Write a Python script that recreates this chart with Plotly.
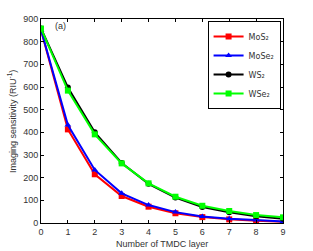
import plotly.graph_objects as go

layers = [0, 1, 2, 3, 4, 5, 6, 7, 8, 9]
mos2 = [852, 413, 215, 119, 72, 43, 26, 16, 10, 5]
mose2 = [852, 432, 234, 131, 79, 48, 29, 19, 13, 7]
ws2 = [858, 598, 400, 265, 173, 112, 71, 47, 30, 19]
wse2 = [858, 584, 391, 263, 175, 116, 76, 53, 35, 25]

series = [
    ("MoS₂", mos2, "red", "square"),
    ("MoSe₂", mose2, "blue", "triangle-up"),
    ("WS₂", ws2, "black", "circle"),
    ("WSe₂", wse2, "#00ff00", "square"),
]

FONT = "DejaVu Sans, Liberation Sans, Arial"
AX = "Liberation Sans, Arial"
TXT = "#333333"

fig = go.Figure()
for name, vals, col, sym in series:
    fig.add_trace(go.Scatter(
        x=layers, y=vals, name=name, mode="lines+markers",
        line=dict(color=col, width=2),
        marker=dict(color=col, symbol=sym, size=6),
    ))

axis_common = dict(
    showgrid=False, zeroline=False, showline=True, linecolor="black", linewidth=1,
    mirror="ticks", ticks="inside", ticklen=3, tickcolor="black", automargin=False,
    tickfont=dict(family=AX, size=9, color=TXT),
)
fig.update_xaxes(range=[0, 9], dtick=1, **axis_common)
fig.update_yaxes(range=[0, 900], dtick=100, **axis_common)

fig.add_annotation(x=0.5, y=-0.105, xref="paper", yref="paper", text="Number of TMDC layer",
                   showarrow=False, xanchor="center", yanchor="middle",
                   font=dict(family=AX, size=9, color=TXT))
fig.add_annotation(x=-0.12, y=0.5, xref="paper", yref="paper",
                   text="Imaging sensitivity (RIU<sup>-1</sup>)", textangle=-90,
                   showarrow=False, xanchor="center", yanchor="middle",
                   font=dict(family=AX, size=9, color=TXT))
fig.add_annotation(x=0.45, y=898, xref="x", yref="y", text="(a)", showarrow=False,
                   xanchor="left", yanchor="top",
                   font=dict(family=AX, size=9, color=TXT))

fig.update_layout(
    width=313, height=251,
    margin=dict(l=41, r=30, t=19, b=28),
    plot_bgcolor="white", paper_bgcolor="white",
    legend=dict(x=0.99, y=0.99, xanchor="right", yanchor="top",
                bgcolor="white", bordercolor="black", borderwidth=1,
                font=dict(family=FONT, size=8, color=TXT),
                tracegroupgap=0, itemwidth=30),
    showlegend=True,
)
fig.write_html("out.html", config={"displayModeBar": False},
               post_script="document.body.style.margin='0';")
